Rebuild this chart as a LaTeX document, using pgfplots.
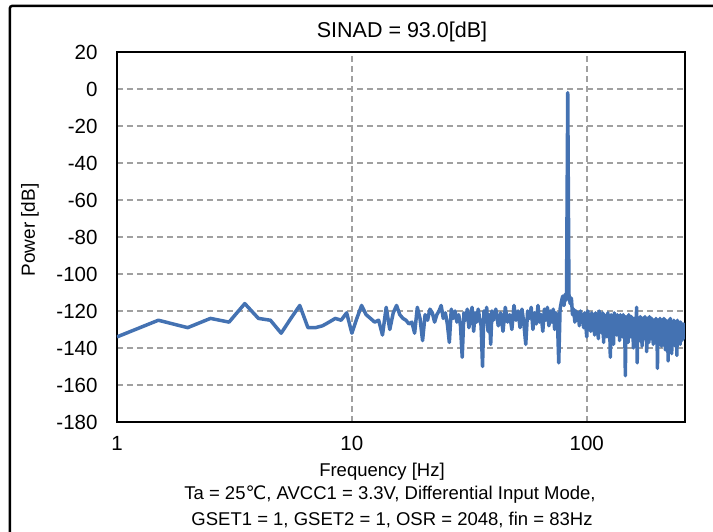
\documentclass[border=0pt]{standalone}
\usepackage{fontspec}
\setmainfont{Liberation Sans}
\newfontfamily\dejavu{DejaVu Sans}
\usepackage{pgfplots}
\usepackage{pgfplotstable}
\pgfplotsset{compat=1.18}
\definecolor{lineblue}{RGB}{68,114,178}
\definecolor{gridgray}{RGB}{160,160,160}

% FFT spectrum, frequency [Hz] / power [dB]
\pgfplotstableread{
f p
1.0 -134
1.5 -125
2.0 -129
2.5 -124
3.0 -126
3.5 -116
4.0 -124
4.5 -125
5.0 -132
5.5 -124
6.0 -117
6.5 -129
7.0 -129
7.5 -128
8.0 -126
8.5 -124
9.0 -125
9.5 -121
10.0 -132
10.5 -124
11.0 -117
11.5 -122
12.0 -124
12.5 -126
13.0 -125
13.5 -133
14.0 -118
14.5 -130
15.0 -121
15.5 -117
16.0 -122
16.5 -124
17.0 -125
17.5 -127
18.0 -126
18.5 -132
19.0 -118
19.5 -124
20.0 -136
20.5 -122
21.0 -125
21.5 -119
22.0 -121
22.5 -126
23.0 -122
23.5 -120
24.0 -117
24.5 -124
25.0 -121
25.5 -127
26.0 -137
26.5 -119
27.0 -124
27.5 -120
28.0 -126
28.5 -122
29.0 -128
29.5 -145
30.0 -121
30.5 -125
31.0 -119
31.5 -129
32.0 -123
32.5 -118
33.0 -131
33.5 -121
34.0 -126
34.5 -119
35.0 -124
35.5 -128
36.0 -150
36.5 -120
37.0 -126
37.5 -118
38.0 -131
38.5 -122
39.0 -138
39.5 -120
40.0 -125
41 -119
42 -128
43 -121
44 -131
45 -118
46 -126
47 -122
48 -130
49 -117
50 -125
51 -120
52 -129
53 -119
54 -127
55 -138
56 -120
57 -124
58 -118
59 -130
60 -121
61 -127
62 -117
63 -126
64 -122
65 -131
66 -119
67 -125
68 -118
69 -128
70 -120
71 -126
72 -119
73 -130
74 -121
75 -124
76 -148
77 -119
78 -115
79 -112
80 -117
81 -111
82 -114
83 -2
84 -111
85 -116
86 -113
87 -122
88 -119
89 -126
90 -120
91 -125
92 -121
93 -128
94 -120
95 -126
96 -122
97 -129
98 -121
99 -127
100 -134
101 -120
102 -128
103 -122
104 -131
105 -121
106 -127
107 -123
108 -133
109 -121
110 -129
111 -122
112 -135
113 -120
114 -128
115 -123
116 -132
117 -121
118 -137
119 -122
120 -129
121 -123
122 -134
123 -121
124 -130
125 -124
126 -145
127 -122
128 -131
129 -123
130 -138
131 -121
132 -129
133 -124
134 -133
135 -122
136 -130
137 -123
138 -136
139 -122
140 -131
141 -124
142 -134
143 -122
144 -130
145 -125
146 -155
147 -123
148 -132
149 -124
150 -137
151 -122
152 -131
153 -125
154 -134
155 -123
156 -132
157 -126
158 -140
159 -124
160 -131
161 -125
162 -135
163 -118
164 -148
165 -124
166 -133
167 -126
168 -136
169 -123
170 -132
171 -125
172 -139
173 -124
174 -131
175 -126
176 -135
177 -123
178 -133
179 -127
180 -142
181 -124
182 -132
183 -126
184 -137
185 -123
186 -131
187 -127
188 -135
189 -124
190 -133
191 -126
192 -138
193 -125
194 -132
195 -127
196 -136
197 -124
198 -134
199 -126
200 -151
201 -125
202 -133
203 -127
204 -137
205 -124
206 -132
207 -128
208 -139
209 -125
210 -134
211 -126
212 -136
213 -124
214 -133
215 -127
216 -141
217 -125
218 -134
219 -128
220 -137
221 -126
222 -147
223 -125
224 -135
225 -127
226 -138
227 -124
228 -133
229 -128
230 -143
231 -126
232 -135
233 -127
234 -137
235 -125
236 -134
237 -128
238 -139
239 -126
240 -136
241 -127
242 -144
243 -125
244 -134
245 -128
246 -137
247 -126
248 -135
249 -129
250 -138
251 -126
252 -134
253 -128
254 -136
255 -127
256 -133
257 -129
258 -135
259 -127
260 -132
261 -128
262 -130
}\spectrum

\begin{document}
\begin{tikzpicture}
% page = 713 x 532, axis box at (117,52)-(685,422) px
\path[use as bounding box] (-117pt,-110pt) rectangle (596pt,422pt);
\begin{axis}[
  at={(0pt,0pt)}, anchor=south west,
  scale only axis,
  width=568pt, height=370pt,
  xmode=log,
  xmin=1, xmax=262,
  ymin=-180, ymax=20,
  xtick={1,10,100},
  xticklabels={1,10,100},
  minor xtick={},
  ytick={-180,-160,...,20},
  grid=major,
  major grid style={gridgray, line width=1.5pt, dash pattern=on 6pt off 4pt},
  axis line style={black, line width=1.5pt},
  tick style={draw=none},
  tick label style={font=\fontsize{20.5}{22}\selectfont, text=black},
  /pgf/number format/assume math mode=true,
  yticklabel style={xshift=-16pt},
  xticklabel style={yshift=-11pt},
]
\addplot[lineblue, line width=3.5pt, line join=round] table[x=f, y=p] {\spectrum};
\end{axis}
% outer chart frame
\draw[black, line width=2.5pt, rounded corners=2pt] (-107pt,-130pt) -- (-107pt,416pt) -- (620pt,416pt);
\node[font=\fontsize{21.5}{23}\selectfont] at (285pt,390pt) {SINAD = 93.0[dB]};
\node[font=\fontsize{19}{20}\selectfont, rotate=90] at (-87pt,192pt) {Power [dB]};
\node[font=\fontsize{18.5}{20}\selectfont] at (265pt,-50pt) {Frequency [Hz]};
\node[font=\fontsize{18.5}{20}\selectfont] at (273pt,-73pt) {Ta = 25{\dejavu ℃}, AVCC1 = 3.3V, Differential Input Mode,};
\node[font=\fontsize{18.5}{20}\selectfont] at (275pt,-98pt) {GSET1 = 1, GSET2 = 1, OSR = 2048, fin = 83Hz};
\end{tikzpicture}
\end{document}
